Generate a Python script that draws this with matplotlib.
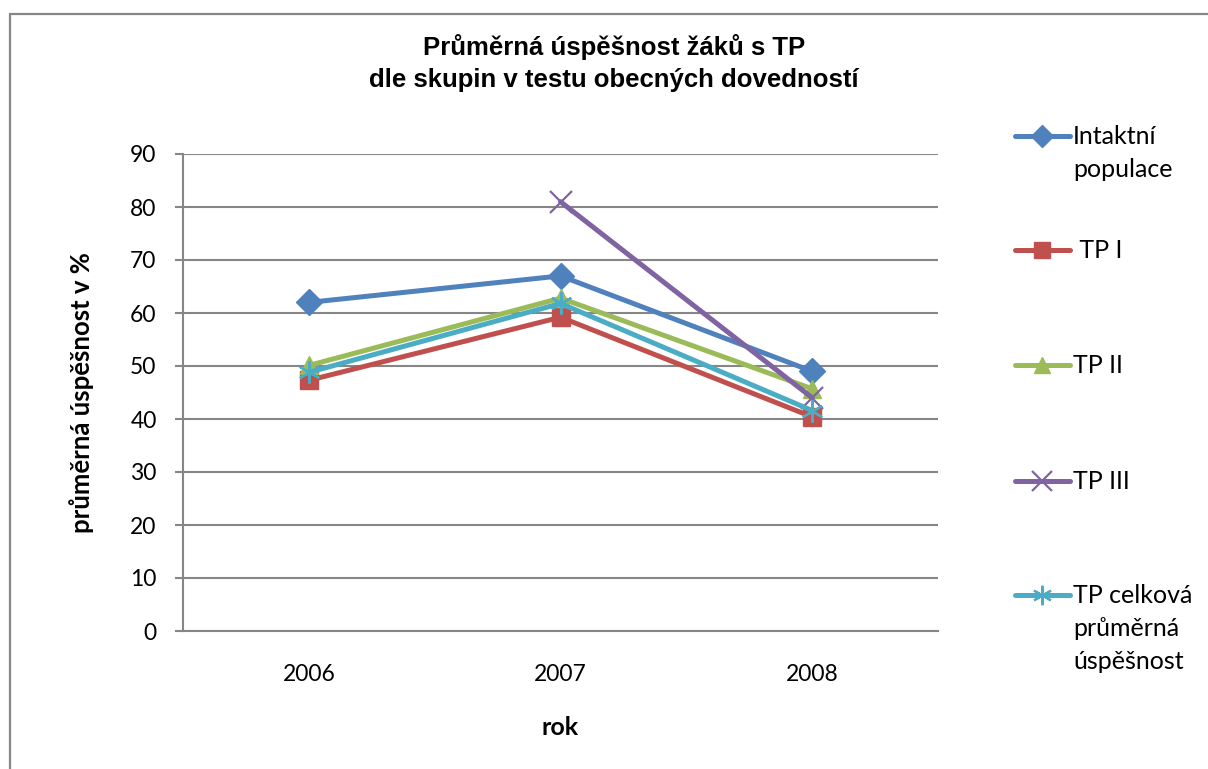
import matplotlib.pyplot as plt
from matplotlib.lines import Line2D
from matplotlib.patches import Rectangle

# data
years = ['2006', '2007', '2008']
intaktni = [62, 67, 49]
tp1 = [47.3, 59.2, 40.4]
tp2 = [50.1, 62.8, 45.7]
tp3 = [None, 81, 44]
tp_celk = [48.8, 61.8, 41.6]

labels = ['Intaktní\npopulace', ' TP I', 'TP II', 'TP III',
          'TP celková\nprůměrná\núspěšnost']
colors = ['#4F81BD', '#C0504D', '#9BBB59', '#8064A2', '#4BACC6']
markers = ['D', 's', '^', 'x', (6, 2, 0)]
msizes = [13, 13, 13, 16, 16]
series = [intaktni, tp1, tp2, tp3, tp_celk]

plt.rcParams['font.family'] = ['Lato', 'DejaVu Sans']

fig = plt.figure(figsize=(12.08, 7.69), dpi=100)
fig.patch.set_facecolor('white')
ax = fig.add_axes([183/1208, 1-631/769, 755/1208, 477/769])

x = list(range(len(years)))
for s, c, m, ms in zip(series, colors, markers, msizes):
    xs = [xi for xi, v in zip(x, s) if v is not None]
    ys = [v for v in s if v is not None]
    thin = m in ('x',) or isinstance(m, tuple)
    ax.plot(xs, ys, color=c, linewidth=3.6, marker=m, markersize=ms,
            markeredgewidth=1.6 if thin else 1, markeredgecolor=c,
            markerfacecolor=c, solid_capstyle='round', zorder=3)

ax.set_xlim(-0.5, 2.5)
ax.set_ylim(0, 90)
ax.set_yticks(range(0, 91, 10))
ax.set_xticks(x)
ax.set_xticklabels(years)
ax.yaxis.grid(True, color='#868686', linewidth=1.5)
ax.set_axisbelow(True)
for sp in ['top', 'right']:
    ax.spines[sp].set_visible(False)
for sp in ['left', 'bottom']:
    ax.spines[sp].set_color('#868686')
    ax.spines[sp].set_linewidth(1.5)
ax.tick_params(axis='y', length=6, width=1.5, color='#868686', pad=13, labelsize=16.5)
ax.tick_params(axis='x', length=0, pad=24, labelsize=16.5)

ax.set_ylabel('průměrná úspěšnost v %', fontsize=18.5, fontweight='bold', labelpad=26)
ax.set_xlabel('rok', fontsize=18, fontweight='bold', labelpad=22)

fig.text(614/1208, 1-47/769, 'Průměrná úspěšnost žáků s TP', ha='center', va='center',
         fontsize=18.5, fontweight='bold', family='Liberation Sans')
fig.text(614/1208, 1-80/769, 'dle skupin v testu obecných dovedností', ha='center', va='center',
         fontsize=18.5, fontweight='bold', family='Liberation Sans')

# legend drawn by hand so the marker sits on the first text line
leg_y = [136, 250, 365, 481, 595]
W, H = 1208, 769
for lab, c, m, ms, y in zip(labels, colors, markers, msizes, leg_y):
    thin = m in ('x',) or isinstance(m, tuple)
    fig.add_artist(Line2D([1015/W, 1070/W], [1-y/H, 1-y/H], color=c, linewidth=3.6,
                          solid_capstyle='round', transform=fig.transFigure))
    fig.add_artist(Line2D([1042/W], [1-y/H], color=c, marker=m, markersize=ms-2,
                          markeredgewidth=1.6 if thin else 1, markerfacecolor=c,
                          transform=fig.transFigure))
    fig.text(1073/W, 1-(y-11)/H, lab, ha='left', va='top', fontsize=18,
             linespacing=1.52)

fig.add_artist(Rectangle((10/W, -0.1), 1.2, 1-14/H+0.1, transform=fig.transFigure,
                         fill=False, edgecolor='#868686', linewidth=1.6))

fig.savefig('out.png', dpi=100)
